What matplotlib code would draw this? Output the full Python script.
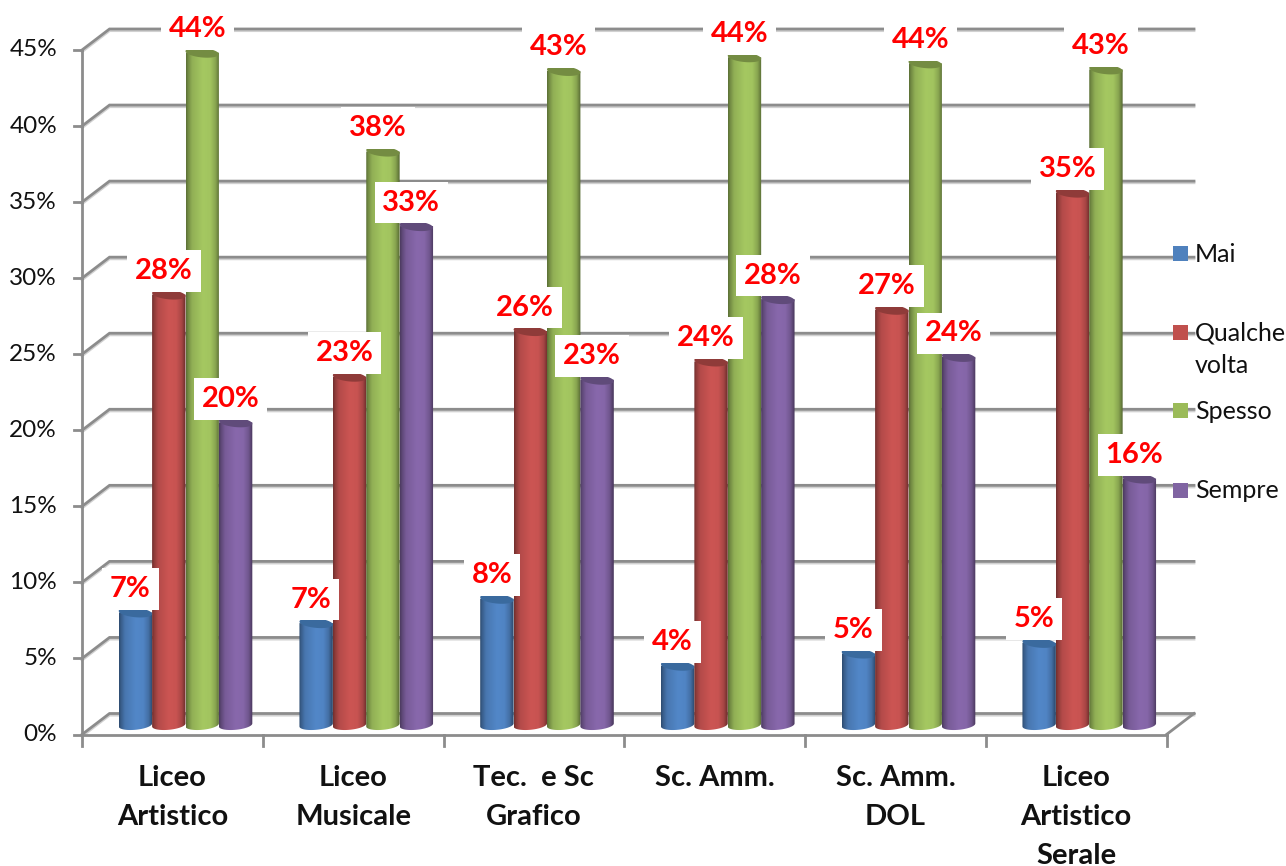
import numpy as np
import matplotlib
matplotlib.use("Agg")
import matplotlib.pyplot as plt
import matplotlib.patheffects as pe
from matplotlib.colors import to_rgb
from matplotlib.patches import PathPatch, Polygon, Rectangle
from matplotlib.path import Path

plt.rcParams['font.family'] = ['Lato', 'DejaVu Sans']

categories = ["Liceo\nArtistico", "Liceo\nMusicale", "Tec.  e Sc\nGrafico",
              "Sc. Amm.", "Sc. Amm.\nDOL", "Liceo\nArtistico\nSerale"]
series_names = ["Mai", "Qualche\nvolta", "Spesso", "Sempre"]
mai = [7.4, 6.7, 8.3, 3.9, 4.7, 5.4]
qualche_volta = [28.3, 22.9, 25.9, 23.9, 27.3, 35.0]
spesso = [44.2, 37.7, 43.0, 43.9, 43.5, 43.1]
sempre = [19.9, 32.8, 22.7, 28.0, 24.2, 16.2]
series = [mai, qualche_volta, spesso, sempre]
colors = ["#4F81BD", "#C0504D", "#9BBB59", "#8064A2"]
body_colors = ["#5287C8", "#CC5553", "#A5C861", "#8868AC"]
cap_colors = ["#3A6A9E", "#8F3B39", "#748C42", "#604B7A"]
yticks = [0, 5, 10, 15, 20, 25, 30, 35, 40, 45]

W, H = 1286, 866
fig = plt.figure(figsize=(W / 100, H / 100), dpi=100, facecolor="white")
L, R, T, B = 82, 1166.5, 50, 734.5
ax = fig.add_axes([L / W, 1 - B / H, (R - L) / W, (B - T) / H])
ax.set_xlim(0, 6)
ax.set_ylim(0, 45)
ax.axis("off")

px_x = 6 / (R - L)
px_y = 45 / (B - T)
depth_x = 27.5 * px_x
depth_y = 21 * px_y
GRAY = "#8C8C8C"
LW = 2.0
shadow = [pe.SimpleLineShadow(offset=(0, -1.2), shadow_color="#999999", alpha=0.45), pe.Normal()]

# walls and floor
for v in yticks:
    ax.plot([0, depth_x, 6 + depth_x], [v, v + depth_y, v + depth_y], color=GRAY, lw=LW,
            clip_on=False, zorder=1, path_effects=shadow, solid_joinstyle="miter")
    ax.plot([-8 * px_x, 0], [v, v], color=GRAY, lw=LW, clip_on=False, zorder=1)
ax.plot([6, 6 + depth_x], [0, depth_y], color=GRAY, lw=LW, clip_on=False, zorder=1)
ax.plot([0, 0], [0, 45], color=GRAY, lw=LW, clip_on=False, zorder=2)
ax.plot([0, 6], [0, 0], color=GRAY, lw=LW, clip_on=False, zorder=2)
for i in range(7):
    ax.plot([i, i], [0, -11 * px_y], color=GRAY, lw=LW, clip_on=False, zorder=2)

for v in yticks:
    ax.text(-25 * px_x, v, f"{v}%", ha="right", va="center", fontsize=17.5, color="#111111",
            clip_on=False)
for i, c in enumerate(categories):
    ax.text(i + 0.5, -30 * px_y, c, ha="center", va="top", fontsize=21, fontweight="bold",
            color="#111111", linespacing=1.62, clip_on=False)

# cylinders
bar_w = 33.4 * px_x
first = 36.7 * px_x
pitch_off = bar_w
base = 9.5 * px_y
rx = bar_w / 2
ry = 4.8 * px_y
skew = 1.5 * px_y
t = np.linspace(0, 2 * np.pi, 61)
profile_pos = [0, 0.06, 0.18, 0.5, 0.72, 0.88, 1.0]
profile_val = [0.56, 0.70, 0.88, 1.0, 0.98, 0.82, 0.52]
xs = np.linspace(0, 1, 64)
shade = np.interp(xs, profile_pos, profile_val)

z = 3.0
for g in range(6):
    for s, vals in enumerate(series):
        cx = g + first + s * pitch_off + rx
        val = vals[g]
        col = np.array(to_rgb(body_colors[s]))
        img = (col[None, None, :] * shade[None, :, None]).clip(0, 1)
        im = ax.imshow(img, extent=[cx - rx, cx + rx, 0, 45], aspect="auto",
                       interpolation="bilinear", zorder=z, clip_on=True)
        u = np.linspace(np.pi, 2 * np.pi, 30)
        bx = cx + rx * np.cos(u)
        by = base + ry * np.sin(u) + skew * np.cos(u)
        top = base + val
        verts = list(zip(bx, by)) + [(cx + rx, top), (cx - rx, top), (cx - rx, by[0])]
        codes = [Path.MOVETO] + [Path.LINETO] * (len(verts) - 2) + [Path.CLOSEPOLY]
        clip = PathPatch(Path(verts, codes), transform=ax.transData, facecolor="none", edgecolor="none")
        ax.add_patch(clip)
        im.set_clip_path(clip)
        cap = np.column_stack([cx + rx * np.cos(t), top + ry * np.sin(t) - skew * np.cos(t)])
        ax.add_patch(Polygon(cap, closed=True, facecolor=cap_colors[s], edgecolor="none",
                             zorder=z + 0.1, clip_on=False))
        z += 0.2

# data labels
for g in range(6):
    for s, vals in enumerate(series):
        cx = g + first + s * pitch_off + rx
        ax.annotate(f"{vals[g]:.0f}%", xy=(cx, vals[g] + base), xytext=(-5 * 0.72, 23.5 * 0.72),
                    textcoords="offset points", ha="center", va="center", fontsize=21,
                    fontweight="bold", color="#FF0000", zorder=50, annotation_clip=False,
                    bbox=dict(boxstyle="square,pad=0.27", facecolor="white", edgecolor="none"))

ax.set_xlim(0, 6)
ax.set_ylim(0, 45)

# legend
leg_y = [253.5, 332.5, 411, 490]
for name, col, y in zip(series_names, colors, leg_y):
    fig.add_artist(Rectangle((1173 / W, 1 - (y + 7.5) / H), 15 / W, 15 / H, transform=fig.transFigure,
                             facecolor=col, edgecolor="none", zorder=60))
    fig.text(1195 / W, 1 - (y - 11) / H, name, ha="left", va="top", fontsize=18, color="#111111",
             linespacing=1.51, zorder=60)

fig.savefig("out.png", dpi=100, facecolor="white")
